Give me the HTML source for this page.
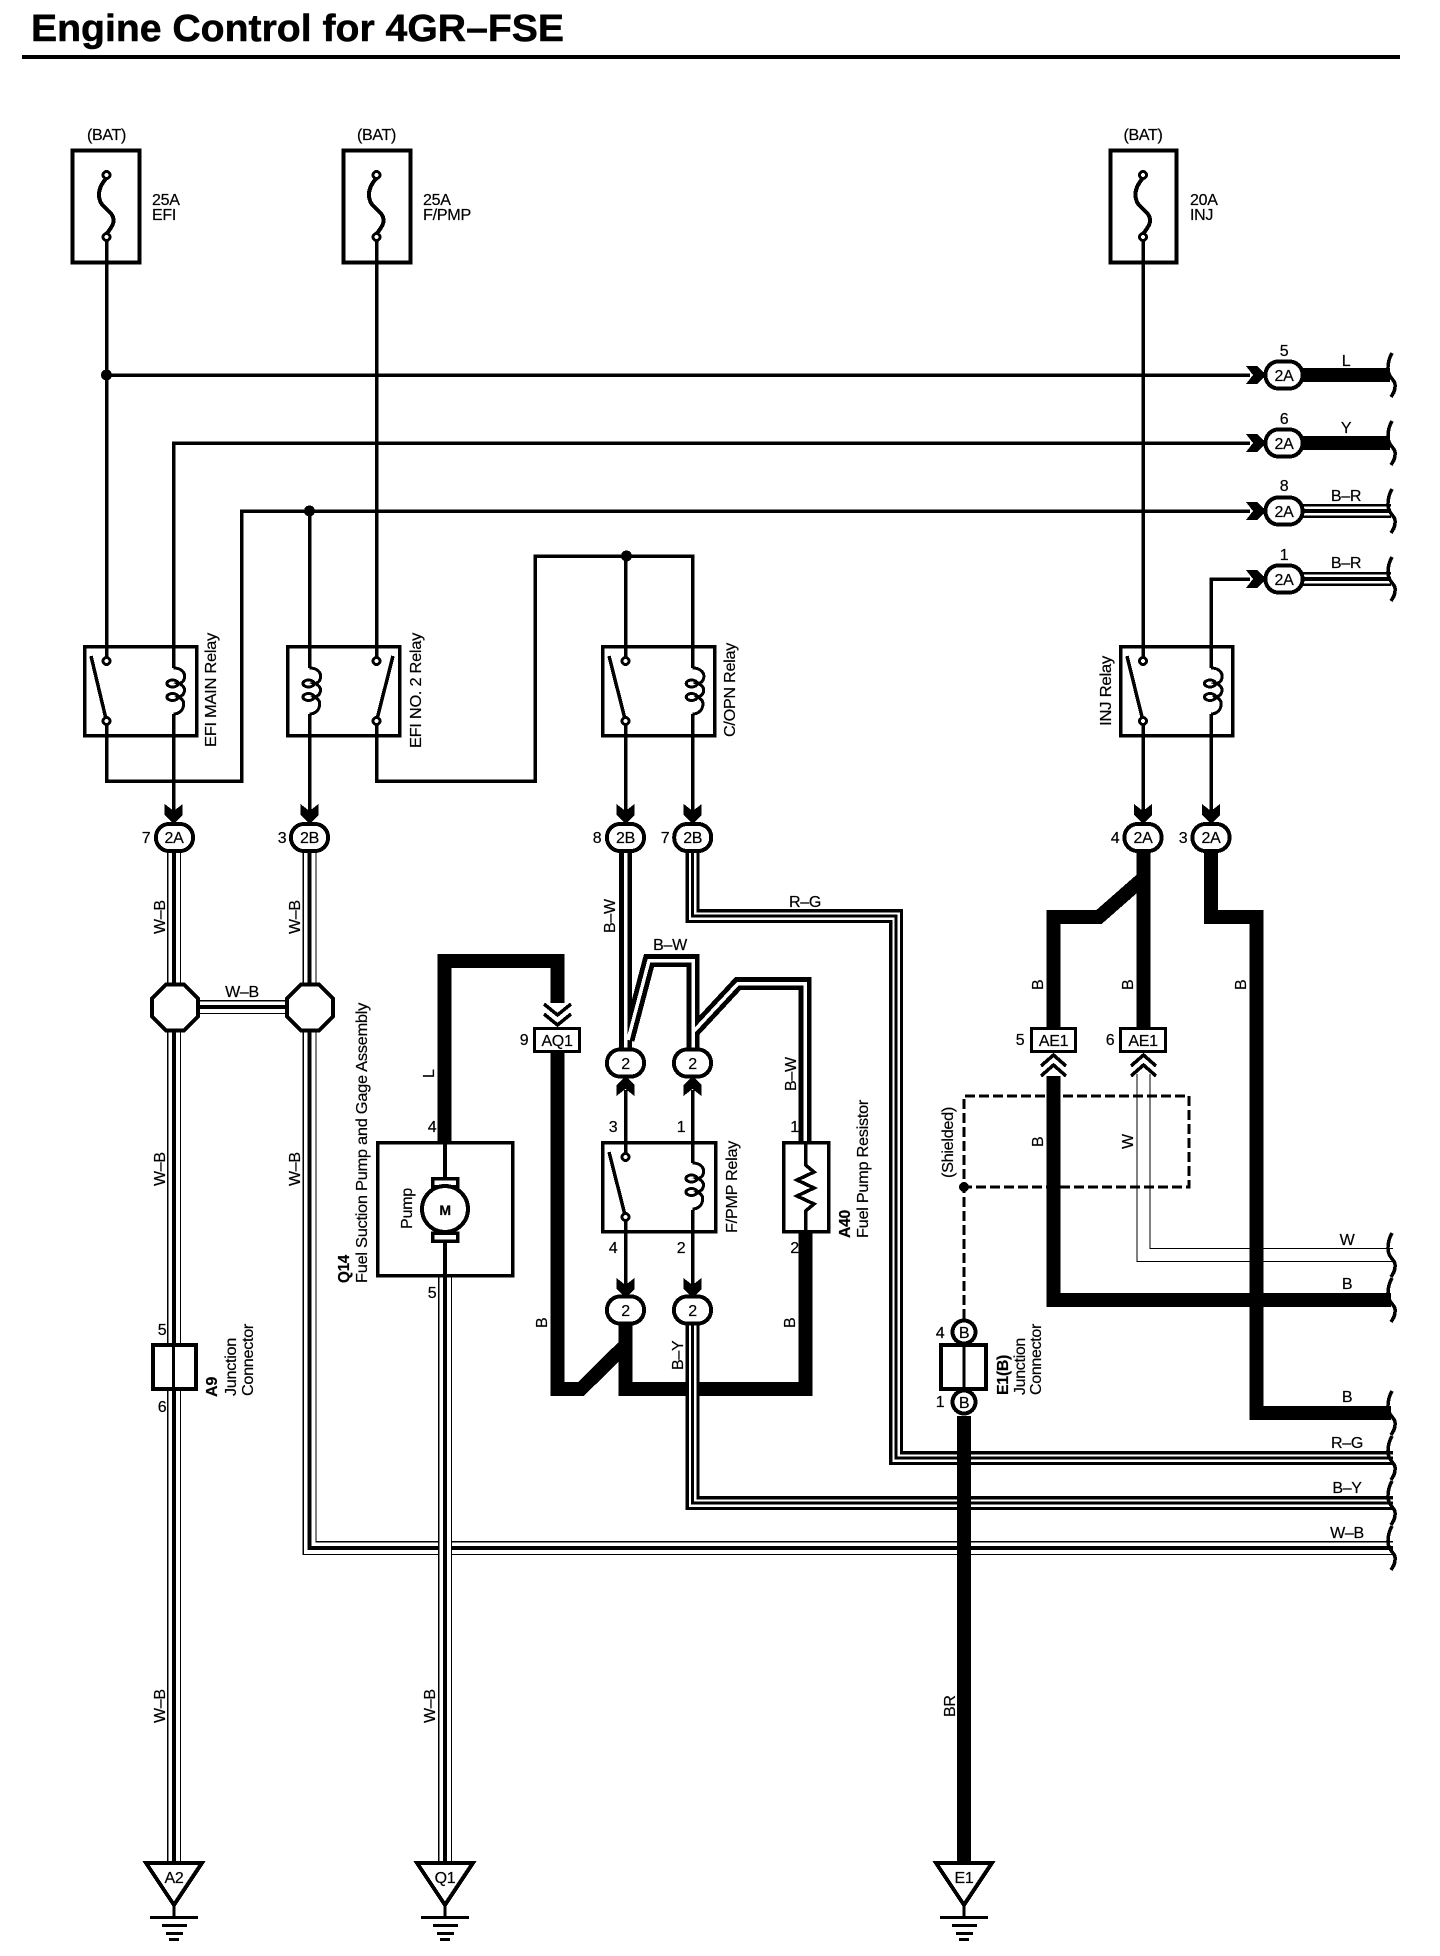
<!DOCTYPE html>
<html><head><meta charset="utf-8"><title>Engine Control for 4GR–FSE</title>
<style>
html,body{margin:0;padding:0;background:#fff}
svg{display:block}
text{font-family:"Liberation Sans",sans-serif;font-size:16px;letter-spacing:-.3px;fill:#000;stroke:#000;stroke-width:.2}
.m{text-anchor:middle}
.b{font-weight:bold}
.n{fill:none;stroke:#000;stroke-width:3.5}
.t{fill:#fff;stroke:#000;stroke-width:3}
.o{fill:#fff;stroke:#000;stroke-width:4}
</style></head><body>
<svg width="1440" height="1956" viewBox="0 0 1440 1956" xmlns="http://www.w3.org/2000/svg" shape-rendering="crispEdges">
<defs>
<polygon id="ch" points="-9,0 0,7 9,0 9,11 0,20 -9,11" fill="#000"/>
<g id="coil" class="n" style="stroke-width:3">
<path d="M0,0 C9,0 12,6 11,10 C10,14 8,15 5,15.5 C9,17 11,19 11,22 C11,26 9,28 5,29 C9,31 11,34 10,38 C9,43 5,46 0,46"/>
<ellipse cx="-1" cy="15.5" rx="5.5" ry="3.5"/><ellipse cx="-1" cy="29" rx="5.5" ry="3.5"/>
</g>
<rect id="ov" x="-18.5" y="-13.5" width="37" height="27" rx="13" class="o"/>
<path id="brace" class="n" style="stroke-width:3.5" d="M3,-22 C-1,-15 -2,-6 0,-1 C2,4 7,6 6,12 C6,16 4,19 2,22"/>
<g id="gnd"><polygon points="-28,0 28,0 0,42" class="o"/><rect x="-1.5" y="42" width="3" height="12" fill="#000"/><rect x="-24" y="53" width="48" height="3" fill="#000"/><rect x="-12" y="61" width="25" height="3" fill="#000"/><rect x="-8" y="69" width="17" height="3" fill="#000"/><rect x="-5" y="75" width="10" height="3" fill="#000"/></g>
<path id="fw" class="n" style="stroke-width:4" d="M0,178 C-8,187 -9,195 -6,202 C-2,210 8,212 7,222 C6,227 2,231 0,234"/>

<path id="wb1" d="M174,851 V1861"/>
<path id="wb2" d="M309.5,851 V1548 H1393"/>
<path id="wb3" d="M175,1007 H310"/>
<path id="wb4" d="M445,1277 V1861"/>
<path id="rg" d="M692.7,851 V916 H896 V1458 H1393"/>
<path id="by" d="M692.7,1323 V1503 H1393"/>
<path id="w" d="M1143.5,1074 V1255 H1393"/>
<path id="bw1" d="M625.5,851 V1050"/>
<path id="bw2" d="M693,1050 V960.5 H649 L628,1040"/>
<path id="bw3" d="M693,1032 L738,983.5 H805 V1141"/>
<path id="br1" d="M1302,511 H1391"/>
<path id="br2" d="M1302,579 H1391"/>
</defs>

<!-- title -->
<text x="31" y="41" class="b" style="font-size:38px;letter-spacing:0;stroke-width:.5" textLength="533" lengthAdjust="spacingAndGlyphs">Engine Control for 4GR–FSE</text>
<rect x="22" y="55" width="1378" height="4" fill="#000"/>

<!-- thin wiring -->
<g fill="none" stroke="#000" stroke-width="3.5">
<path d="M106.5,240 V661 M106.5,721 V781 H241.5 V511 H1250"/>
<path d="M106.5,375 H1250"/>
<path d="M173.5,668 V443 H1250 M173.5,714 V825"/>
<path d="M309.5,511 V668 M309.5,714 V825"/>
<path d="M376.5,240 V661 M376.5,721 V781 H535 V556 H692.7 V668 M692.7,714 V825"/>
<path d="M625.5,556 V661 M625.5,721 V825"/>
<path d="M1143,240 V661 M1143,721 V825"/>
<path d="M1250,579 H1211 V668 M1211,714 V825"/>
<path d="M625.5,1090 V1157 M625.5,1217 V1290"/>
<path d="M692.5,1090 V1163 M692.5,1210 V1290"/>
</g>

<!-- multi-strand wires -->
<g fill="none" stroke-linejoin="miter">
<g stroke="#000" stroke-width="14"><use href="#wb3"/></g><g stroke="#fff" stroke-width="11.5"><use href="#wb3"/></g><g stroke="#000" stroke-width="4"><use href="#wb3"/></g>
<g stroke="#000" stroke-width="14"><use href="#wb2"/></g><g stroke="#fff" stroke-width="11.5"><use href="#wb2"/></g><g stroke="#000" stroke-width="4"><use href="#wb2"/></g>
<g stroke="#000" stroke-width="14"><use href="#wb1"/></g><g stroke="#fff" stroke-width="11.5"><use href="#wb1"/></g><g stroke="#000" stroke-width="4"><use href="#wb1"/></g>
<g stroke="#000" stroke-width="14"><use href="#wb4"/></g><g stroke="#fff" stroke-width="11.5"><use href="#wb4"/></g><g stroke="#000" stroke-width="4"><use href="#wb4"/></g>
<g stroke="#000" stroke-width="14"><use href="#rg"/></g><g stroke="#fff" stroke-width="7.5"><use href="#rg"/></g><g stroke="#000" stroke-width="3"><use href="#rg"/></g>
<g stroke="#000" stroke-width="14"><use href="#w"/></g><g stroke="#fff" stroke-width="12"><use href="#w"/></g>
<g stroke="#000" stroke-width="14"><use href="#br1"/></g><g stroke="#fff" stroke-width="9"><use href="#br1"/></g><g stroke="#000" stroke-width="4"><use href="#br1"/></g>
<g stroke="#000" stroke-width="14"><use href="#br2"/></g><g stroke="#fff" stroke-width="9"><use href="#br2"/></g><g stroke="#000" stroke-width="4"><use href="#br2"/></g>
</g>

<!-- dashed shield -->
<path d="M964,1319 V1096 H1189 V1187 H964" fill="none" stroke="#000" stroke-width="3" stroke-dasharray="10 4"/>
<circle cx="964" cy="1187" r="5" fill="#000"/>

<!-- thick wires -->
<g fill="none" stroke="#000" stroke-width="14" stroke-linejoin="miter">
<path d="M1302,375 H1390 M1302,443 H1390"/>
<path d="M444.5,1141 V961 H557.5 V1003"/>
<path d="M557.5,1053 V1389 H581 L625.5,1345"/>
<path d="M625.5,1323 V1389 H805.5 V1233"/>
<path d="M1143.5,851 V1027"/>
<path d="M1143.5,878 L1099,917 H1053.5 V1027"/>
<path d="M1053.5,1076 V1300 H1391"/>
<path d="M1211,851 V917 H1256.5 V1413 H1391"/>
<path d="M964,1416 V1861"/>
</g>
<g fill="none" stroke-linejoin="miter">
<g stroke="#000" stroke-width="14"><use href="#by"/></g><g stroke="#fff" stroke-width="7.5"><use href="#by"/></g><g stroke="#000" stroke-width="3"><use href="#by"/></g>
<path d="M964,1440 V1530" stroke="#000" stroke-width="14"/>
<g stroke="#000" stroke-width="13"><use href="#bw1"/></g>
<g stroke="#000" stroke-width="13"><use href="#bw2"/></g>
<g stroke="#000" stroke-width="13"><use href="#bw3"/></g>
<g stroke="#fff" stroke-width="3.5"><use href="#bw1"/></g>
<g stroke="#fff" stroke-width="3.5"><use href="#bw2"/></g>
<g stroke="#fff" stroke-width="3.5"><use href="#bw3"/></g>
</g>

<!-- junction dots -->
<circle cx="106.5" cy="375" r="5.5" fill="#000"/><circle cx="309.5" cy="511" r="5.5" fill="#000"/><circle cx="626.5" cy="556" r="5.5" fill="#000"/>

<!-- fuses -->
<g>
<rect x="72.5" y="150.5" width="67" height="112" fill="none" stroke="#000" stroke-width="4"/>
<rect x="343.5" y="150.5" width="67" height="112" fill="none" stroke="#000" stroke-width="4"/>
<rect x="1110.5" y="150.5" width="66" height="112" fill="none" stroke="#000" stroke-width="4"/>
<use href="#fw" x="106.5"/><use href="#fw" x="376.5"/><use href="#fw" x="1143"/>
<circle cx="106.5" cy="175" r="3.5" class="t"/><circle cx="106.5" cy="237" r="3.5" class="t"/>
<circle cx="376.5" cy="175" r="3.5" class="t"/><circle cx="376.5" cy="237" r="3.5" class="t"/>
<circle cx="1143" cy="175" r="3.5" class="t"/><circle cx="1143" cy="237" r="3.5" class="t"/>
</g>

<!-- relays -->
<g fill="none" stroke="#000" stroke-width="3.5">
<rect x="84.5" y="646.5" width="112" height="89"/>
<rect x="287.5" y="646.5" width="112" height="89"/>
<rect x="602.5" y="646.5" width="112" height="89"/>
<rect x="1120.5" y="646.5" width="112" height="89"/>
<rect x="602.5" y="1142.5" width="113" height="89"/>
<path d="M91,656 L106.5,721 M393,656 L376.5,721 M609,656 L625.5,721 M1127,656 L1143,721 M609,1152 L625.5,1217" stroke-width="3.5"/>
</g>
<use href="#coil" x="173.5" y="668"/><use href="#coil" x="309.5" y="668"/><use href="#coil" x="692.7" y="668"/><use href="#coil" x="1211" y="668"/><use href="#coil" x="692.5" y="1163"/>
<g>
<circle cx="106.5" cy="661" r="3.5" class="t"/><circle cx="106.5" cy="721" r="3.5" class="t"/>
<circle cx="376.5" cy="661" r="3.5" class="t"/><circle cx="376.5" cy="721" r="3.5" class="t"/>
<circle cx="625.5" cy="661" r="3.5" class="t"/><circle cx="625.5" cy="721" r="3.5" class="t"/>
<circle cx="1143" cy="661" r="3.5" class="t"/><circle cx="1143" cy="721" r="3.5" class="t"/>
<circle cx="625.5" cy="1157" r="3.5" class="t"/><circle cx="625.5" cy="1217" r="3.5" class="t"/>
</g>

<!-- resistor -->
<rect x="783.5" y="1142.5" width="45" height="89" fill="#fff" stroke="#000" stroke-width="3.5"/>
<path d="M805.5,1141 V1165 L814,1172 L797,1180 L814,1188 L797,1196 L814,1204 L805.5,1211 V1233" fill="none" stroke="#000" stroke-width="3.5"/>

<!-- pump -->
<rect x="377.5" y="1142.5" width="135" height="133" fill="#fff" stroke="#000" stroke-width="3.5"/>
<path d="M445,1141 V1177 M445,1242 V1277" stroke="#000" stroke-width="4" fill="none"/>
<rect x="432.5" y="1178.5" width="25" height="8" class="o" style="stroke-width:3.5"/>
<rect x="432.5" y="1233" width="25" height="8" class="o" style="stroke-width:3.5"/>
<circle cx="445" cy="1209" r="23" class="o"/>

<!-- upper connectors -->
<use href="#ch" x="173.7" y="804"/><use href="#ch" x="309.5" y="804"/><use href="#ch" x="625.5" y="804"/><use href="#ch" x="692.7" y="804"/><use href="#ch" x="1143" y="804"/><use href="#ch" x="1211" y="804"/>
<use href="#ov" x="174.5" y="837.5"/><use href="#ov" x="309.5" y="837.5"/><use href="#ov" x="625.5" y="837.5"/><use href="#ov" x="692.7" y="837.5"/><use href="#ov" x="1143" y="837.5"/><use href="#ov" x="1211" y="837.5"/>

<!-- right connectors -->
<g id="r">
<use href="#ch" transform="translate(1246,375) rotate(-90)"/><use href="#ch" transform="translate(1246,443) rotate(-90)"/><use href="#ch" transform="translate(1246,511) rotate(-90)"/><use href="#ch" transform="translate(1246,579) rotate(-90)"/>
</g>
<use href="#ov" x="1284" y="375"/><use href="#ov" x="1284" y="443"/><use href="#ov" x="1284" y="511"/><use href="#ov" x="1284" y="579"/>

<!-- F/PMP connectors -->
<use href="#ch" transform="translate(625.5,1096) rotate(180)"/><use href="#ch" transform="translate(692.5,1096) rotate(180)"/>
<use href="#ch" x="625.5" y="1278"/><use href="#ch" x="692.5" y="1278"/>
<use href="#ov" x="625.5" y="1063"/><use href="#ov" x="692.5" y="1063"/><use href="#ov" x="625.5" y="1310"/><use href="#ov" x="692.5" y="1310"/>

<!-- AQ1 / AE1 -->
<g fill="none" stroke="#000" stroke-width="3.5">
<path d="M544,1004 L557.5,1015 L571,1004 M544,1014 L557.5,1025 L571,1014"/>
<path d="M1041,1066 L1053.5,1055 L1066,1066 M1041,1076 L1053.5,1065 L1066,1076"/>
<path d="M1131,1066 L1143.5,1055 L1156,1066 M1131,1076 L1143.5,1065 L1156,1076"/>
</g>
<rect x="534.5" y="1028.5" width="45" height="23" class="t"/>
<rect x="1031.5" y="1028.5" width="44" height="23" class="t"/>
<rect x="1120.5" y="1028.5" width="45" height="23" class="t"/>

<!-- octagons -->
<polygon transform="translate(175,1007.5)" points="-9,-23 9,-23 23,-9 23,9 9,23 -9,23 -23,9 -23,-9" class="o"/>
<polygon transform="translate(310,1007.5)" points="-9,-23 9,-23 23,-9 23,9 9,23 -9,23 -23,9 -23,-9" class="o"/>

<!-- junction connectors -->
<rect x="153" y="1345" width="43" height="44" class="o"/><rect x="172" y="1345" width="3" height="44" fill="#000"/>
<circle cx="964" cy="1332" r="11.5" class="o"/><circle cx="964" cy="1402" r="11.5" class="o"/>
<rect x="941" y="1345" width="45" height="44" class="o"/><rect x="962.5" y="1345" width="3" height="44" fill="#000"/>

<!-- grounds -->
<use href="#gnd" x="174" y="1863"/><use href="#gnd" x="445" y="1863"/><use href="#gnd" x="964" y="1863"/>

<!-- braces -->
<use href="#brace" x="1389" y="375"/><use href="#brace" x="1389" y="443"/><use href="#brace" x="1389" y="511"/><use href="#brace" x="1389" y="579"/>
<use href="#brace" x="1389" y="1255"/><use href="#brace" x="1389" y="1300"/><use href="#brace" x="1389" y="1413"/><use href="#brace" x="1389" y="1458"/><use href="#brace" x="1389" y="1503"/><use href="#brace" x="1389" y="1548"/>

<!-- labels -->
<g>
<text x="106.5" y="140" class="m">(BAT)</text><text x="376.5" y="140" class="m">(BAT)</text><text x="1143" y="140" class="m">(BAT)</text>
<text x="152" y="205">25A</text><text x="152" y="220">EFI</text>
<text x="423" y="205">25A</text><text x="423" y="220" textLength="48" lengthAdjust="spacingAndGlyphs">F/PMP</text>
<text x="1190" y="205">20A</text><text x="1190" y="220">INJ</text>

<text x="1284" y="356" class="m">5</text><text x="1284" y="424" class="m">6</text><text x="1284" y="491" class="m">8</text><text x="1284" y="560" class="m">1</text>
<text x="1346" y="366" class="m">L</text><text x="1346" y="433" class="m">Y</text><text x="1346" y="501" class="m">B–R</text><text x="1346" y="568" class="m">B–R</text>
<text x="1284" y="381" class="m">2A</text><text x="1284" y="449" class="m">2A</text><text x="1284" y="517" class="m">2A</text><text x="1284" y="585" class="m">2A</text>

<text x="174" y="843" class="m">2A</text><text x="309.5" y="843" class="m">2B</text><text x="625.5" y="843" class="m">2B</text><text x="692.7" y="843" class="m">2B</text><text x="1143" y="843" class="m">2A</text><text x="1211" y="843" class="m">2A</text>
<text x="146" y="843" class="m">7</text><text x="282" y="843" class="m">3</text><text x="597" y="843" class="m">8</text><text x="665" y="843" class="m">7</text><text x="1115" y="843" class="m">4</text><text x="1183" y="843" class="m">3</text>

<text transform="translate(216,747) rotate(-90)" textLength="114" lengthAdjust="spacingAndGlyphs">EFI MAIN Relay</text>
<text transform="translate(421,748) rotate(-90)" textLength="115" lengthAdjust="spacingAndGlyphs">EFI NO. 2 Relay</text>
<text transform="translate(735,737) rotate(-90)" textLength="94" lengthAdjust="spacingAndGlyphs">C/OPN Relay</text>
<text transform="translate(1111,726) rotate(-90)" textLength="70" lengthAdjust="spacingAndGlyphs">INJ Relay</text>

<text transform="translate(165,934) rotate(-90)">W–B</text><text transform="translate(300,934) rotate(-90)">W–B</text>
<text x="242" y="997" class="m">W–B</text>
<text transform="translate(165,1186) rotate(-90)">W–B</text><text transform="translate(300,1186) rotate(-90)">W–B</text>
<text transform="translate(165,1723) rotate(-90)">W–B</text><text transform="translate(435,1723) rotate(-90)">W–B</text>
<text transform="translate(615,933) rotate(-90)">B–W</text>
<text x="670" y="950" class="m">B–W</text>
<text x="805" y="907" class="m">R–G</text>
<text transform="translate(796,1091) rotate(-90)">B–W</text>
<text transform="translate(434,1078) rotate(-90)">L</text>
<text transform="translate(547,1328) rotate(-90)">B</text><text transform="translate(795,1328) rotate(-90)">B</text>
<text transform="translate(683,1370) rotate(-90)">B–Y</text>
<text transform="translate(1043,990) rotate(-90)">B</text><text transform="translate(1133,990) rotate(-90)">B</text><text transform="translate(1246,990) rotate(-90)">B</text>
<text transform="translate(1043,1147) rotate(-90)">B</text><text transform="translate(1133,1149) rotate(-90)">W</text>
<text transform="translate(953,1178) rotate(-90)" textLength="71" lengthAdjust="spacingAndGlyphs">(Shielded)</text>
<text transform="translate(955,1717) rotate(-90)">BR</text>

<text x="524" y="1045" class="m">9</text><text x="557" y="1046" class="m">AQ1</text>
<text x="1020" y="1045" class="m">5</text><text x="1053.5" y="1046" class="m">AE1</text>
<text x="1110" y="1045" class="m">6</text><text x="1143" y="1046" class="m">AE1</text>

<text x="625.5" y="1069" class="m">2</text><text x="692.5" y="1069" class="m">2</text><text x="625.5" y="1316" class="m">2</text><text x="692.5" y="1316" class="m">2</text>
<text x="613" y="1132" class="m">3</text><text x="681" y="1132" class="m">1</text><text x="613" y="1253" class="m">4</text><text x="681" y="1253" class="m">2</text>
<text x="794.5" y="1132" class="m">1</text><text x="794.5" y="1253" class="m">2</text>
<text x="432" y="1132" class="m">4</text><text x="432" y="1298" class="m">5</text>
<text x="445" y="1215" class="m b" style="font-size:14px">M</text>
<text transform="translate(412,1229) rotate(-90)" textLength="41" lengthAdjust="spacingAndGlyphs">Pump</text>
<text transform="translate(737,1233) rotate(-90)" textLength="92" lengthAdjust="spacingAndGlyphs">F/PMP Relay</text>
<text transform="translate(850,1238) rotate(-90)" class="b" textLength="28" lengthAdjust="spacingAndGlyphs">A40</text>
<text transform="translate(868,1238) rotate(-90)" textLength="138" lengthAdjust="spacingAndGlyphs">Fuel Pump Resistor</text>
<text transform="translate(349,1283) rotate(-90)" class="b" textLength="28" lengthAdjust="spacingAndGlyphs">Q14</text>
<text transform="translate(367,1283) rotate(-90)" textLength="280" lengthAdjust="spacingAndGlyphs">Fuel Suction Pump and Gage Assembly</text>

<text x="162" y="1335" class="m">5</text><text x="162" y="1412" class="m">6</text>
<text transform="translate(217,1397) rotate(-90)" class="b" textLength="20" lengthAdjust="spacingAndGlyphs">A9</text>
<text transform="translate(236,1396) rotate(-90)" textLength="58" lengthAdjust="spacingAndGlyphs">Junction</text>
<text transform="translate(253,1396) rotate(-90)" textLength="72" lengthAdjust="spacingAndGlyphs">Connector</text>

<text x="940" y="1338" class="m">4</text><text x="940" y="1407" class="m">1</text>
<text x="964" y="1338" class="m">B</text><text x="964" y="1408" class="m">B</text>
<text transform="translate(1008,1395) rotate(-90)" class="b" textLength="40" lengthAdjust="spacingAndGlyphs">E1(B)</text>
<text transform="translate(1025,1395) rotate(-90)" textLength="57" lengthAdjust="spacingAndGlyphs">Junction</text>
<text transform="translate(1041,1395) rotate(-90)" textLength="71" lengthAdjust="spacingAndGlyphs">Connector</text>

<text x="1347" y="1245" class="m">W</text><text x="1347" y="1289" class="m">B</text><text x="1347" y="1402" class="m">B</text>
<text x="1347" y="1448" class="m">R–G</text><text x="1347" y="1493" class="m">B–Y</text><text x="1347" y="1538" class="m">W–B</text>

<text x="174" y="1883" class="m">A2</text><text x="445" y="1883" class="m">Q1</text><text x="964" y="1883" class="m">E1</text>
</g>
</svg>
</body></html>
